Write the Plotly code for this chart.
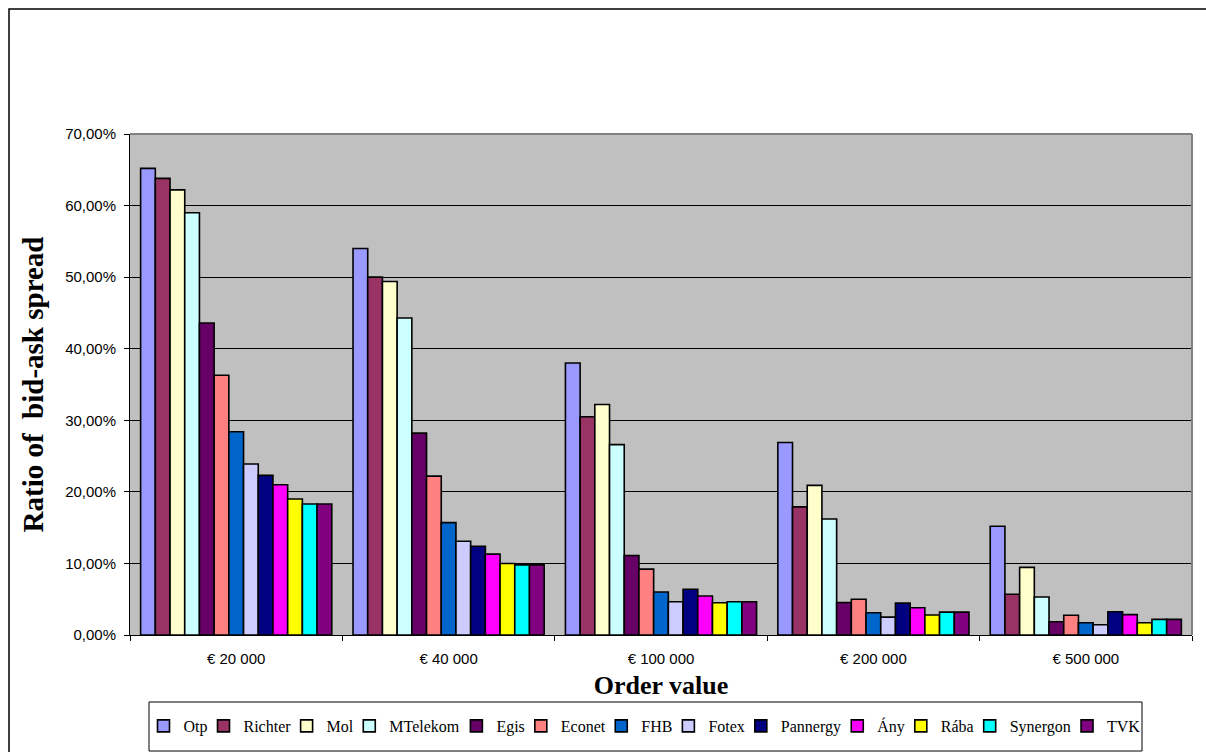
import plotly.graph_objects as go

categories = ["€ 20 000", "€ 40 000", "€ 100 000", "€ 200 000", "€ 500 000"]

series_names = ["Otp", "Richter", "Mol", "MTelekom", "Egis", "Econet", "FHB",
                "Fotex", "Pannergy", "Ány", "Rába", "Synergon", "TVK"]

otp = [0.652, 0.540, 0.380, 0.269, 0.152]
richter = [0.638, 0.500, 0.305, 0.179, 0.057]
mol = [0.622, 0.494, 0.322, 0.209, 0.0945]
mtelekom = [0.590, 0.443, 0.266, 0.162, 0.053]
egis = [0.436, 0.282, 0.111, 0.0455, 0.0186]
econet = [0.363, 0.222, 0.092, 0.050, 0.0275]
fhb = [0.284, 0.157, 0.060, 0.031, 0.0172]
fotex = [0.239, 0.131, 0.0465, 0.025, 0.0144]
pannergy = [0.223, 0.124, 0.064, 0.0445, 0.0325]
any_ = [0.210, 0.113, 0.0545, 0.038, 0.0284]
raba = [0.190, 0.100, 0.045, 0.028, 0.0172]
synergon = [0.183, 0.098, 0.0465, 0.032, 0.0219]
tvk = [0.183, 0.098, 0.0465, 0.032, 0.0219]

series_values = [otp, richter, mol, mtelekom, egis, econet, fhb,
                 fotex, pannergy, any_, raba, synergon, tvk]

colors = ["#9999FF", "#993366", "#FFFFCC", "#CCFFFF", "#660066", "#FF8080",
          "#0066CC", "#CCCCFF", "#000080", "#FF00FF", "#FFFF00", "#00FFFF",
          "#800080"]

y_ticks = [0, 0.1, 0.2, 0.3, 0.4, 0.5, 0.6, 0.7]

# Times / Liberation Serif advance widths (per 1000 em) for legend sizing
TIMES_W = {
    "O": 722, "t": 278, "p": 500, "R": 667, "i": 278, "c": 444, "h": 500,
    "e": 444, "r": 333, "M": 889, "o": 500, "l": 278, "T": 611, "k": 500,
    "m": 778, "E": 611, "g": 500, "s": 389, "n": 500, "F": 556, "H": 722,
    "B": 667, "x": 500, "P": 556, "a": 444, "y": 500, "Á": 722, "á": 444,
    "b": 500, "S": 556, "V": 722, "K": 722,
}
LEG_FONT = 16


def text_width(s, size):
    return sum(TIMES_W.get(ch, 500) for ch in s) * size / 1000.0


fig = go.Figure()
n = len(series_names)
for i, (name, vals, col) in enumerate(zip(series_names, series_values, colors)):
    tw = text_width(name, LEG_FONT)
    lw = tw + 3 if i == n - 1 else max(10, tw - 9)
    fig.add_trace(go.Bar(
        name=name, x=categories, y=vals,
        marker=dict(color=col, line=dict(color="black", width=1.6)),
        legendwidth=lw,
    ))

W, H = 1206, 752
L, R, T, B = 130, 14, 134, 117
pw, ph = W - L - R, H - T - B


def px_to_paper_x(px):
    return (px - L) / pw


def px_to_paper_y(py):
    return (H - B - py) / ph


serif = "Liberation Serif, Times New Roman, serif"
sans = "Liberation Sans, Arial, sans-serif"

fig.update_layout(
    width=W, height=H,
    margin=dict(l=L, r=R, t=T, b=B, pad=0, autoexpand=False),
    paper_bgcolor="white",
    plot_bgcolor="#C0C0C0",
    barmode="group",
    bargap=0.1,
    bargroupgap=0,
    separators=", ",
    showlegend=True,
    legend=dict(
        orientation="h",
        x=px_to_paper_x(646), xanchor="center",
        y=px_to_paper_y(726), yanchor="middle",
        borderwidth=0, bgcolor="rgba(0,0,0,0)",
        font=dict(family=serif, size=LEG_FONT, color="black"),
        traceorder="normal",
    ),
    xaxis=dict(
        type="category",
        automargin=False,
        showgrid=False,
        ticks="outside", ticklen=5, tickcolor="black", tickson="boundaries",
        tickfont=dict(family=sans, size=15, color="black"),
        ticklabelstandoff=10,
        showline=True, linecolor="black", linewidth=1,
        title=dict(text="<b>Order value</b>", standoff=9,
                   font=dict(family=serif, size=26, color="black")),
    ),
    yaxis=dict(
        range=[0, 0.7],
        automargin=False,
        tickvals=y_ticks,
        tickformat=".2%",
        showgrid=True, gridcolor="black", gridwidth=1,
        ticks="outside", ticklen=5, tickcolor="black",
        tickfont=dict(family=sans, size=15, color="black"),
        ticklabelstandoff=5,
        showline=True, linecolor="black", linewidth=1,
        zeroline=False,
        title=dict(text="<b>Ratio of  bid-ask spread</b>", standoff=12,
                   font=dict(family=serif, size=29, color="black")),
    ),
    shapes=[
        # plot-area frame (top and right in gray)
        dict(type="line", xref="paper", yref="paper", x0=0, x1=1, y0=1, y1=1,
             line=dict(color="#808080", width=2), layer="above"),
        dict(type="line", xref="paper", yref="paper", x0=1, x1=1, y0=0, y1=1,
             line=dict(color="#808080", width=2), layer="above"),
        # legend box
        dict(type="rect", xref="paper", yref="paper",
             x0=px_to_paper_x(149), x1=px_to_paper_x(1142),
             y0=px_to_paper_y(751), y1=px_to_paper_y(702),
             line=dict(color="black", width=1), layer="above"),
        # outer chart border
        dict(type="rect", xref="paper", yref="paper",
             x0=px_to_paper_x(9), x1=px_to_paper_x(1215),
             y0=px_to_paper_y(765), y1=px_to_paper_y(9),
             line=dict(color="black", width=1.5), layer="above"),
    ],
)

fig.write_html(
    "out.html",
    config={"displayModeBar": False},
    post_script="document.body.style.margin='0';document.body.style.overflow='hidden';",
)
